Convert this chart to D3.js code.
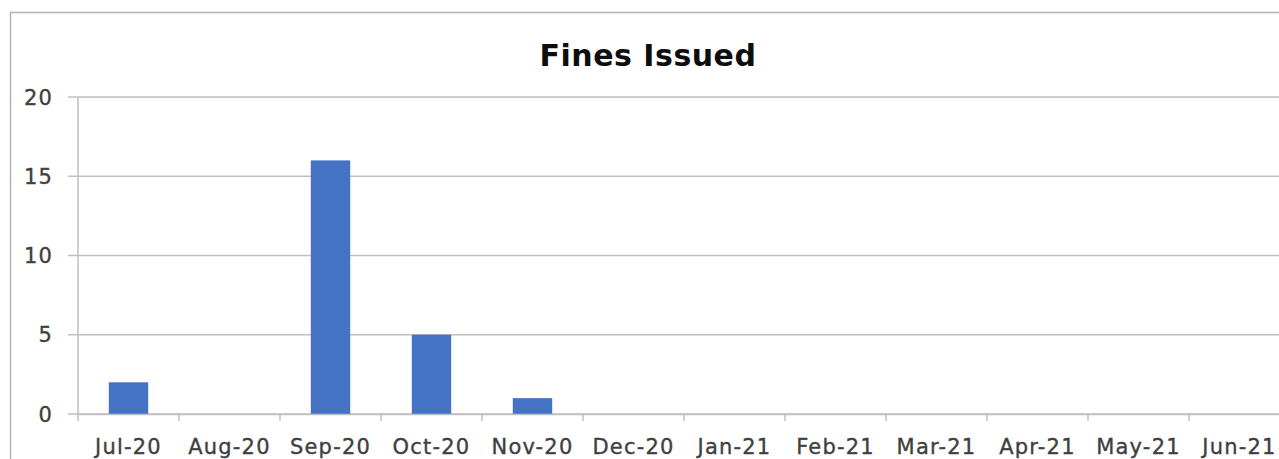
<!DOCTYPE html>
<html>
<head>
<meta charset="utf-8">
<script src="https://cdn.jsdelivr.net/npm/d3@7"></script>
<style>
  body { margin: 0; background: #fff; overflow: hidden; }
  text { font-family: "DejaVu Sans", Verdana, sans-serif; }
</style>
</head>
<body>
<div id="chart"></div>
<script>
// data
const months = ["Jul-20", "Aug-20", "Sep-20", "Oct-20", "Nov-20", "Dec-20",
                "Jan-21", "Feb-21", "Mar-21", "Apr-21", "May-21", "Jun-21"];
const fines = [2, 0, 16, 5, 1, 0, 0, 0, 0, 0, 0, 0];
const yTicks = [0, 5, 10, 15, 20];

const W = 1279, H = 459;
const margin = { top: 97, right: -11, bottom: 45, left: 78 }; // plot runs past the right edge

const svg = d3.select("#chart")
  .append("svg")
  .attr("width", W)
  .attr("height", H);

// outer chart frame
svg.append("rect")
  .attr("x", 10.5)
  .attr("y", 12.5)
  .attr("width", W + 20)
  .attr("height", H + 20)
  .attr("fill", "none")
  .attr("stroke", "#b4b4b4")
  .attr("stroke-width", 1.5);

const x = d3.scaleBand()
  .domain(months)
  .range([margin.left, W - margin.right])
  .paddingInner(0.61)
  .paddingOuter(0.305);

const y = d3.scaleLinear()
  .domain([0, 20])
  .range([H - margin.bottom, margin.top]);

// gridlines
svg.append("g")
  .selectAll("line")
  .data(yTicks)
  .join("line")
  .attr("x1", margin.left - 10)
  .attr("x2", W)
  .attr("y1", d => y(d))
  .attr("y2", d => y(d))
  .attr("stroke", "#bfbfbf")
  .attr("stroke-width", 1.5);

// y labels
svg.append("g")
  .selectAll("text")
  .data(yTicks)
  .join("text")
  .attr("x", 53)
  .attr("y", d => y(d))
  .attr("dy", "0.36em")
  .attr("text-anchor", "end")
  .attr("font-size", 21)
  .attr("letter-spacing", 1.2)
  .attr("fill", "#404040")
  .attr("stroke", "#404040")
  .attr("stroke-width", 0.35)
  .text(d => d);

// bars
svg.append("g")
  .selectAll("rect")
  .data(fines)
  .join("rect")
  .attr("x", (d, i) => x(months[i]))
  .attr("y", d => y(d))
  .attr("width", x.bandwidth())
  .attr("height", d => y(0) - y(d))
  .attr("fill", "#4472c4");

// y axis line
svg.append("line")
  .attr("x1", margin.left)
  .attr("x2", margin.left)
  .attr("y1", y(20))
  .attr("y2", y(0) + 7)
  .attr("stroke", "#bfbfbf")
  .attr("stroke-width", 1.5);

// x axis
const xAxis = svg.append("g")
  .attr("transform", `translate(0,${y(0)})`)
  .call(d3.axisBottom(x).tickSize(0).tickFormat(""));
xAxis.select(".domain").attr("stroke", "#bfbfbf").attr("stroke-width", 1.5);

const step = x.step();
xAxis.selectAll(".sep")
  .data(d3.range(1, months.length))
  .join("line")
  .attr("class", "sep")
  .attr("x1", i => margin.left + i * step)
  .attr("x2", i => margin.left + i * step)
  .attr("y1", 0)
  .attr("y2", 7)
  .attr("stroke", "#bfbfbf")
  .attr("stroke-width", 1.5);

svg.append("g")
  .selectAll("text")
  .data(months)
  .join("text")
  .attr("x", d => x(d) + x.bandwidth() / 2)
  .attr("y", 454)
  .attr("text-anchor", "middle")
  .attr("font-size", 21)
  .attr("letter-spacing", 1.2)
  .attr("fill", "#404040")
  .attr("stroke", "#404040")
  .attr("stroke-width", 0.35)
  .text(d => d);

// title
svg.append("text")
  .attr("x", 648)
  .attr("y", 66)
  .attr("text-anchor", "middle")
  .attr("font-size", 30)
  .attr("font-weight", "bold")
  .attr("letter-spacing", 0.5)
  .attr("fill", "#0d0d0d")
  .text("Fines Issued");
</script>
</body>
</html>
